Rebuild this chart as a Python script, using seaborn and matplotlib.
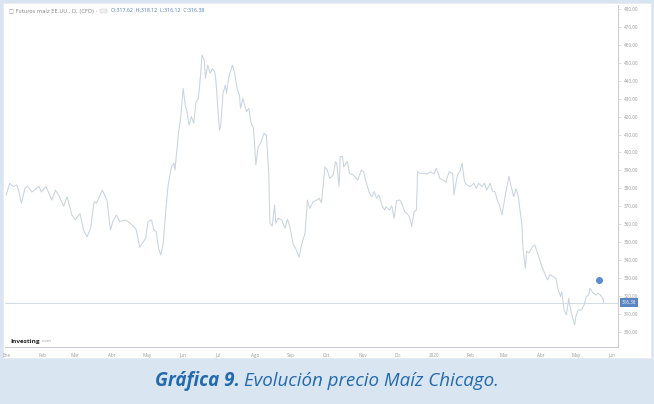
import matplotlib
matplotlib.use('Agg')
import matplotlib.pyplot as plt
import matplotlib.transforms as mtransforms
from matplotlib.patches import Rectangle
import numpy as np
import pandas as pd
import seaborn as sb

# Futuros maiz EE.UU. (CFD), diario: dias desde 2019-01-01 y cierre aproximado
days = [0, 3, 6, 9, 11, 13, 16, 18, 22, 25, 28, 30, 34, 39, 42, 45, 49, 52, 56, 59,
        63, 66, 69, 72, 75, 77, 82, 86, 89, 91, 94, 97, 101, 104, 109, 111, 114,
        119, 121, 124, 126, 128, 130, 132, 134, 136, 138, 141, 143, 144, 147, 149,
        151, 153, 154, 156, 158, 160, 162, 164, 166, 167, 169, 170, 172, 174, 176,
        178, 179, 181, 182, 183, 185, 187, 188, 190, 193, 195, 197, 199, 200, 202,
        205, 207, 209, 211, 213, 215, 217, 220, 222, 224, 225, 227, 229, 230, 232,
        235, 238, 240, 242, 245, 247, 250, 252, 255, 257, 259, 262, 265, 267, 269,
        272, 274, 276, 279, 281, 282, 284, 285, 287, 288, 291, 293, 296, 300, 303,
        305, 307, 310, 312, 314, 316, 318, 321, 323, 324, 327, 329, 331, 333, 336,
        338, 340, 342, 344, 346, 348, 350, 351, 353, 356, 359, 362, 365, 367, 370,
        373, 375, 378, 381, 382, 385, 387, 389, 391, 393, 396, 399, 401, 403, 406,
        408, 410, 413, 415, 417, 419, 421, 423, 426, 429, 431, 433, 435, 437, 438,
        440, 441, 443, 444, 446, 449, 451, 453, 455, 457, 460, 462, 464, 467, 469,
        471, 473, 474, 476, 478, 480, 481, 483, 485, 486, 488, 491, 493, 495, 497,
        498, 501, 503, 505, 507, 509, 510]
prices = [376.3, 382.8, 381.0, 382.0, 378.0, 371.7, 380.0, 381.3, 378.0, 379.5,
          381.0, 378.0, 381.0, 373.5, 379.0, 376.0, 370.0, 375.4, 365.2, 362.4,
          366.0, 356.8, 353.0, 357.8, 372.6, 371.7, 379.0, 373.5, 356.8, 361.5,
          365.2, 361.5, 362.4, 361.5, 358.7, 356.8, 347.2,
          352.2, 361.5, 362.4, 356.8, 355.9, 346.6, 342.9, 349.4, 366.1, 381.0,
          392.0, 394.0, 390.2, 410.7, 420.0, 435.7, 425.5, 423.7, 415.3, 420.0,
          416.3, 428.3, 430.1, 444.1, 454.3, 451.5, 441.3, 448.7, 444.1, 446.8,
          445.0, 439.4, 421.8, 412.5, 414.4, 433.0, 437.6, 433.0, 442.2, 448.7,
          444.1, 435.7, 432.0, 424.6, 430.1, 422.7, 424.6, 416.3, 413.5, 393.0,
          403.2, 405.1, 410.7, 409.7, 388.4, 360.6, 359.0, 370.8, 360.6, 363.3,
          362.4, 357.8, 362.8, 358.7, 348.5, 346.6, 341.6, 348.5, 355.0, 373.5,
          368.9, 372.6, 373.5, 374.5, 372.0, 392.0, 390.2, 385.6, 387.5, 394.9,
          394.0, 381.0, 397.7, 397.7, 392.0, 394.9, 388.4, 387.5, 384.7, 390.2,
          389.3, 383.7, 377.3, 375.4, 378.2, 374.5, 376.3, 369.8, 368.0, 369.8,
          368.0, 370.2, 363.3, 373.1, 373.5, 370.8, 367.0, 366.1, 364.2, 358.7,
          367.0, 368.0, 389.3, 388.4, 388.4, 388.0, 389.3, 388.0, 391.2, 385.6,
          384.7, 383.4, 389.3, 388.4, 376.3, 387.5, 389.3, 394.0, 383.7, 381.9,
          381.0, 382.8, 380.0, 382.8, 381.0, 382.8, 379.0, 382.8, 378.2, 378.2,
          373.5, 370.3, 365.2, 376.8, 386.7, 380.5, 375.4, 379.8, 375.4, 369.8,
          360.0, 345.7, 335.5, 345.0, 344.0, 347.5, 348.5, 344.7, 340.5, 336.4,
          331.8, 329.0, 331.8, 330.8, 329.9, 323.4, 319.7, 322.5, 312.3, 309.5,
          318.8, 314.1, 308.5, 303.9, 308.5, 312.3, 312.3, 315.0, 319.7, 320.6,
          324.3, 321.5, 320.6, 321.5, 320.6, 318.8, 316.38]

month_labels = ['Ene', 'Feb', 'Mar', 'Abr', 'May', 'Jun', 'Jul', 'Ago', 'Sep',
                'Oct', 'Nov', 'Dic', '2020', 'Feb', 'Mar', 'Abr', 'May', 'Jun']
month_starts = pd.date_range('2019-01-01', '2020-06-01', freq='MS')
y_ticks = list(range(300, 481, 10))
last_close = 316.38
event_day = 506
event_price = 329.0

start = pd.Timestamp('2019-01-01')
df = pd.DataFrame({'fecha': start + pd.to_timedelta(days, unit='D'), 'precio': prices})

sb.set_style('white')
plt.rcParams['font.family'] = ['Open Sans', 'DejaVu Sans']

fig = plt.figure(figsize=(6.54, 4.04), dpi=100)
fig.patch.set_facecolor('#d9e5f0')
# white chart panel, behind the axes
panel = Rectangle((3 / 654, 1 - 358 / 404), 648 / 654, 355 / 404,
                  transform=fig.transFigure, facecolor='white',
                  edgecolor='#e6ecf2', lw=0.6, zorder=-10)
fig.patches.append(panel)

ax = fig.add_axes([5 / 654, 1 - 347 / 404, 613 / 654, 342 / 404])
ax.set_zorder(5)
ax.patch.set_alpha(0)
sb.lineplot(data=df, x='fecha', y='precio', ax=ax, color='#c8d4e0', linewidth=0.75)
ax.axhline(last_close, color='#d3dbe3', lw=0.7, zorder=1)
ax.scatter([start + pd.Timedelta(days=event_day)], [event_price], s=16,
           color='#5b8ed1', zorder=5)

ax.set_xlim(start - pd.Timedelta(days=1), start + pd.Timedelta(days=522))
ax.set_ylim(291.6, 482.2)
ax.set_xlabel('')
ax.set_ylabel('')

ax.set_xticks(month_starts)
ax.set_xticklabels(month_labels, fontsize=3.3, color='#9a9a9a')
ax.yaxis.tick_right()
ax.set_yticks(y_ticks)
ax.set_yticklabels([f'{v:.2f}' for v in y_ticks], fontsize=3.3, color='#9a9a9a')
ax.tick_params(axis='both', length=2, width=0.4, color='#c8c8c8', pad=2)

for side in ['left', 'top']:
    ax.spines[side].set_visible(False)
for side in ['right', 'bottom']:
    ax.spines[side].set_color('#c8ccd0')
    ax.spines[side].set_linewidth(0.7)

# current price tag on the right axis
trans = mtransforms.blended_transform_factory(ax.transAxes, ax.transData)
ax.text(1.006, last_close, f'{last_close:.2f}', transform=trans, fontsize=3.3,
        color='white', va='center', ha='left',
        bbox=dict(boxstyle='square,pad=0.35', fc='#5a84c2', ec='none'))

# legend line
fig.text(9 / 654, 1 - 11 / 404, '\u25a1 Futuros maíz EE.UU., D, (CFD) \u00b7',
         fontsize=3.8, color='#8a8a8a', va='center', family=['DejaVu Sans'])
fig.patches.append(Rectangle((100 / 654, 1 - 13 / 404), 7 / 654, 4 / 404,
                             transform=fig.transFigure, facecolor='#eeeeee',
                             edgecolor='#cccccc', lw=0.3))
fig.text(111 / 654, 1 - 11 / 404, 'O:317.62  H:318.12  L:316.12  C:316.38',
         fontsize=3.8, color='#4f7fbf', va='center')

# watermark
fig.text(10 / 654, 1 - 341 / 404, 'Investing', fontsize=4.6, fontweight='bold',
         color='#222222', va='center')
fig.text(42 / 654, 1 - 341.5 / 404, '.com', fontsize=3.2, color='#999999', va='center')

# caption
fig.text(240 / 654, 1 - 381 / 404, 'Gráfica 9.', fontsize=13.5, fontweight='bold',
         style='italic', color='#2369ad', ha='right', va='center')
fig.text(244 / 654, 1 - 381 / 404, 'Evolución precio Maíz Chicago.', fontsize=13.5,
         style='italic', color='#2369ad', ha='left', va='center')

fig.savefig('out.png', dpi=100, facecolor=fig.get_facecolor())
